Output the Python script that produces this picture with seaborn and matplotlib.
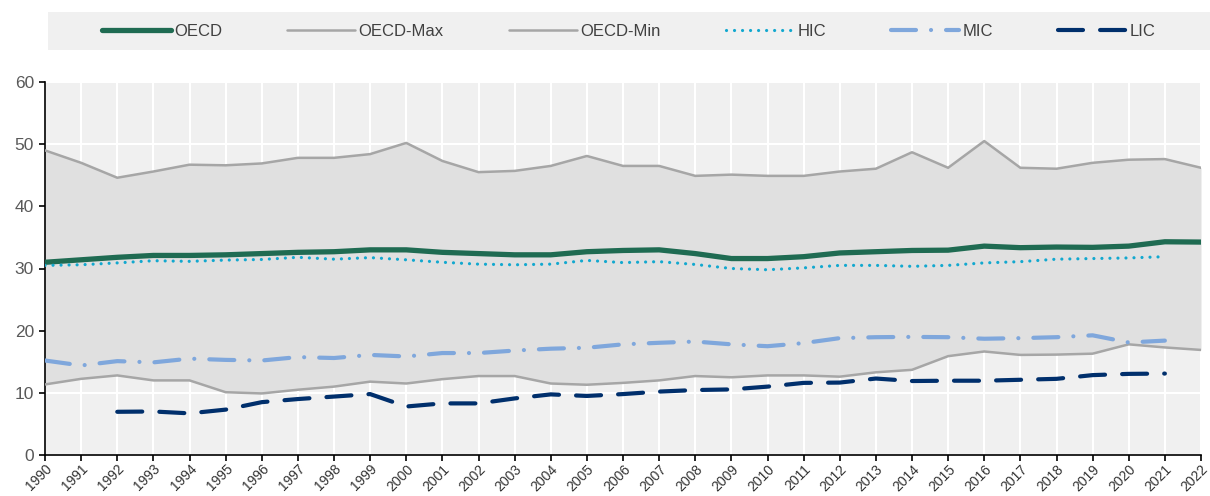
import numpy as np
import pandas as pd
import matplotlib
matplotlib.use("Agg")
import matplotlib.pyplot as plt
from matplotlib.patches import Rectangle
import seaborn as sns

# ---------------------------
# Data
# ---------------------------
years = list(range(1990, 2023))

oecd = [31.0, 31.4, 31.8, 32.1, 32.1, 32.2, 32.4, 32.6, 32.7, 33.0, 33.0,
        32.6, 32.4, 32.2, 32.2, 32.7, 32.9, 33.0, 32.4, 31.6, 31.6, 31.9,
        32.5, 32.7, 32.9, 32.95, 33.6, 33.35, 33.45, 33.4, 33.6, 34.3, 34.25]

oecd_max = [49.0, 47.0, 44.6, 45.6, 46.7, 46.6, 46.9, 47.8, 47.8, 48.4, 50.2,
            47.3, 45.5, 45.7, 46.5, 48.1, 46.5, 46.5, 44.9, 45.1, 44.9, 44.9,
            45.6, 46.05, 48.7, 46.2, 50.5, 46.2, 46.05, 47.0, 47.5, 47.6, 46.2]

oecd_min = [11.35, 12.25, 12.8, 12.0, 12.0, 10.1, 9.9, 10.5, 11.0, 11.8, 11.5,
            12.2, 12.7, 12.7, 11.5, 11.3, 11.6, 12.0, 12.7, 12.5, 12.8, 12.8,
            12.6, 13.3, 13.7, 15.9, 16.65, 16.1, 16.15, 16.3, 17.8, 17.3, 16.9]

hic = [30.5, 30.6, 30.9, 31.25, 31.15, 31.35, 31.45, 31.8, 31.5, 31.75, 31.4,
       31.0, 30.7, 30.6, 30.7, 31.3, 30.95, 31.1, 30.65, 30.0, 29.8, 30.1,
       30.5, 30.5, 30.35, 30.5, 30.9, 31.1, 31.5, 31.6, 31.7, 31.9, np.nan]

mic = [15.2, 14.4, 15.1, 14.9, 15.5, 15.3, 15.2, 15.75, 15.6, 16.1, 15.85,
       16.4, 16.4, 16.8, 17.1, 17.25, 17.8, 18.05, 18.25, 17.8, 17.5, 18.0,
       18.8, 18.95, 19.0, 18.95, 18.7, 18.8, 18.95, 19.25, 18.1, 18.4, np.nan]

lic = [np.nan, np.nan, 6.95, 7.0, 6.7, 7.3, 8.5, 9.0, 9.4, 9.8, 7.8,
       8.3, 8.3, 9.1, 9.75, 9.5, 9.8, 10.2, 10.45, 10.55, 11.0, 11.6,
       11.65, 12.3, 11.9, 11.95, 11.95, 12.1, 12.25, 12.85, 13.05, 13.1, np.nan]

df = pd.DataFrame({"year": years, "OECD": oecd, "OECD-Max": oecd_max,
                   "OECD-Min": oecd_min, "HIC": hic, "MIC": mic, "LIC": lic})

# ---------------------------
# Styling
# ---------------------------
sns.set_theme(style="white")
plt.rcParams["font.family"] = ["Liberation Sans", "DejaVu Sans"]

fig = plt.figure(figsize=(12.1, 4.96), dpi=100)
ax = fig.add_axes([45 / 1210, 1 - 455 / 496, (1201 - 45) / 1210, (455 - 82) / 496])
ax.set_facecolor("#f0f0f0")

ax.fill_between(df["year"], df["OECD-Min"], df["OECD-Max"], color="#e0e0e0", lw=0, zorder=1)

styles = {
    "OECD": dict(color="#1f6b52", lw=3.8, ls="-"),
    "OECD-Max": dict(color="#a6a6a6", lw=1.8, ls="-"),
    "OECD-Min": dict(color="#a6a6a6", lw=1.8, ls="-"),
    "HIC": dict(color="#12a8cf", lw=2.3, ls=(0, (0.01, 2.5)), dash_capstyle="round"),
    "MIC": dict(color="#7fa7dc", lw=3.0, ls=(0, (6, 3.6, 0.01, 3.6)), dash_capstyle="round"),
    "LIC": dict(color="#002f6c", lw=3.0, ls=(0, (6, 4.1)), dash_capstyle="round"),
}

for name in ["OECD", "OECD-Max", "OECD-Min", "HIC", "MIC", "LIC"]:
    sns.lineplot(data=df, x="year", y=name, ax=ax, label=name, zorder=3, **styles[name])

ax.set_xlim(1990, 2022)
ax.set_ylim(0, 60)
ax.set_xticks(years)
ax.set_xticklabels([str(y) for y in years], rotation=45, ha="right",
                   rotation_mode="anchor", fontsize=10, color="#333333")
ax.set_yticks(range(0, 61, 10))
ax.set_yticklabels([str(v) for v in range(0, 61, 10)], fontsize=12.5, color="#595959")
ax.set_xlabel("")
ax.set_ylabel("")

ax.grid(True, color="white", lw=1.5, zorder=0)
ax.set_axisbelow(True)
for side in ["top", "right"]:
    ax.spines[side].set_visible(False)
for side in ["left", "bottom"]:
    ax.spines[side].set_color("black")
    ax.spines[side].set_linewidth(1.2)
ax.tick_params(axis="x", bottom=True, direction="out", length=4, width=1.2, color="black", pad=1)
ax.tick_params(axis="y", left=True, direction="out", length=4, width=1.2, color="black", pad=4)

# legend band
fig.patches.append(Rectangle((48 / 1210, 1 - 50 / 496), 1 - 48 / 1210, 38 / 496,
                             transform=fig.transFigure, facecolor="#f0f0f0",
                             edgecolor="none", zorder=0))

handles, labels = ax.get_legend_handles_labels()
ax.get_legend().remove()
fig.legend(handles, labels, loc="center", ncol=6,
           bbox_to_anchor=(629 / 1210, 1 - 31 / 496),
           frameon=False, fontsize=12, handlelength=4.1, handletextpad=0.2,
           columnspacing=3.9, borderaxespad=0, labelcolor="#404040")

fig.savefig("out.png", dpi=100)
